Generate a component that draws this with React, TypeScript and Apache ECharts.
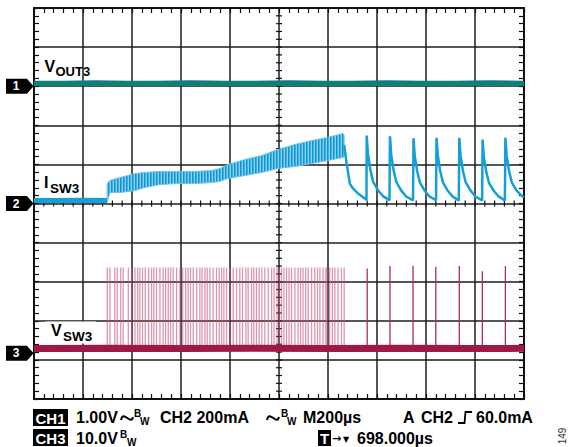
import React, { useEffect, useRef } from "react";
import * as echarts from "echarts";

// ---- scope settings ----
const US_PER_DIV = 200;
const X_MAX_US = 2000;
const Y_DIVS = 10;
const CH1_V_PER_DIV = 1.0;
const CH2_MA_PER_DIV = 200;
const CH3_V_PER_DIV = 10.0;
const CH1_ZERO_DIV = 8;
const CH2_ZERO_DIV = 5;
const CH3_ZERO_DIV = 1.17;

// ---- CH1: VOUT3 (V, relative to CH1 marker) ----
const vout3TimeUs = [0, 120, 250, 380, 500, 640, 780, 900, 1040, 1180, 1300, 1440, 1580, 1720, 1860, 2000];
const vout3Volts = [0.07, 0.07, 0.08, 0.07, 0.07, 0.08, 0.07, 0.07, 0.08, 0.07, 0.07, 0.08, 0.07, 0.07, 0.08, 0.07];

// ---- CH2: ISW3 (mA) ----
const isw3IdleTimeUs = [0, 100, 200, 298];
const isw3IdleMa = [15, 15, 16, 15];
// ripple band (upper / lower envelope)
const isw3BandTimeUs = [298, 310, 351, 383, 412, 453, 514, 587, 657, 726, 759, 791, 861, 930, 995, 1065, 1134, 1199, 1260, 1266];
const isw3BandUpperMa = [100, 118, 133, 143, 153, 159, 164, 164, 164, 169, 179, 199, 225, 246, 276, 302, 322, 338, 358, 350];
const isw3BandLowerMa = [5, 56, 56, 61, 66, 82, 97, 102, 102, 107, 113, 128, 143, 159, 179, 189, 205, 220, 235, 240];
// pulse-skipping tail
const isw3TailTimeUs = [
  1266, 1276, 1289, 1302, 1323, 1350, 1357,
  1358, 1363, 1373, 1384, 1404, 1424, 1451,
  1453, 1458, 1468, 1479, 1499, 1519, 1547,
  1549, 1554, 1564, 1575, 1595, 1615, 1641,
  1643, 1648, 1658, 1669, 1689, 1709, 1734,
  1736, 1741, 1751, 1762, 1782, 1802, 1829,
  1831, 1836, 1846, 1857, 1877, 1897, 1922,
  1924, 1929, 1939, 1950, 1970, 1990, 2000,
];
const isw3TailMa = [
  300, 205, 102, 77, 51, 26, 18,
  348, 256, 172, 112, 68, 38, 17,
  344, 250, 168, 110, 66, 36, 16,
  334, 245, 165, 108, 64, 35, 17,
  336, 248, 166, 108, 65, 35, 16,
  336, 246, 166, 109, 66, 36, 16,
  327, 240, 162, 106, 64, 35, 16,
  336, 247, 166, 108, 66, 40, 32,
];

// ---- CH3: VSW3 (V) ----
const vsw3BaseTimeUs = [0, 300, 600, 900, 1200, 1500, 1800, 2000];
const vsw3BaseVolts = [1.2, 1.25, 1.2, 1.25, 1.2, 1.25, 1.2, 1.25];
const vsw3DensePulseTimeUs = [
  299, 310, 330, 340, 354, 364, 385, 399, 412, 423, 432, 443, 454, 468, 480, 489,
  500, 514, 527, 537, 548, 558, 568, 582, 596, 607, 619, 629, 639, 650, 664, 677,
  686, 698, 707, 718, 731, 745, 756, 766, 775, 786, 799, 813, 827, 840, 851, 865,
  874, 888, 897, 908, 919, 930, 942, 956, 970, 980, 992, 1001, 1010, 1020, 1031, 1041,
  1051, 1065, 1078, 1088, 1098, 1109, 1119, 1133, 1146, 1157, 1167, 1180, 1191, 1196,
  1207, 1218, 1228, 1241, 1255, 1266,
];
const vsw3DensePeakV = 21.9;
const vsw3SparsePulseTimeUs = [1360, 1453, 1547, 1640, 1736, 1830, 1924];
const vsw3SparsePeakV = [21.7, 22.3, 22.4, 22.1, 22.3, 21.0, 22.3];

const ch1ToDiv = (v: number) => CH1_ZERO_DIV + v / CH1_V_PER_DIV;
const ch2ToDiv = (ma: number) => CH2_ZERO_DIV + ma / CH2_MA_PER_DIV;
const ch3ToDiv = (v: number) => CH3_ZERO_DIV + v / CH3_V_PER_DIV;

const C_VOUT = "#0f7f78";
const C_ISW = "#159fd7";
const C_VSW = "#a01848";
const INK = "#111111";
const FONT_LABEL = "Liberation Sans";
const FONT_INFO = "Liberation Sans";

function frameAxis(position: string, split: boolean, isX: boolean) {
  return {
    type: "value",
    min: 0,
    max: isX ? X_MAX_US : Y_DIVS,
    interval: isX ? US_PER_DIV : 1,
    position,
    axisLine: { show: true, onZero: false, lineStyle: { color: INK, width: 2 } },
    axisTick: { show: true, inside: true, length: 5, lineStyle: { color: INK, width: 1.2 } },
    minorTick: { show: true, splitNumber: 5, length: 5, lineStyle: { color: INK, width: 1.2 } },
    axisLabel: { show: false },
    splitLine: { show: split, lineStyle: { color: "#1c1c1c", width: 1.5 } },
    minorSplitLine: { show: false },
  };
}

function makeBandFill(): any {
  try {
    const cv = document.createElement("canvas");
    cv.width = 3;
    cv.height = 2;
    const ctx = cv.getContext("2d");
    if (!ctx) return "#2aa7dd";
    ctx.fillStyle = "#8ccfee";
    ctx.fillRect(0, 0, 3, 2);
    ctx.fillStyle = "#0f95d0";
    ctx.fillRect(0, 0, 1, 2);
    ctx.fillStyle = "#3fb0e2";
    ctx.fillRect(1, 0, 1, 2);
    return { image: cv.toDataURL(), repeat: "repeat", imageWidth: 3, imageHeight: 2 };
  } catch (e) {
    return "#2aa7dd";
  }
}

export default function App() {
  const ref = useRef<HTMLDivElement>(null);

  useEffect(() => {
    if (!ref.current) return;
    const chart = echarts.init(ref.current, undefined, { renderer: "svg" });
    const bandFill = makeBandFill();

    const series: any[] = [
      {
        type: "custom",
        name: "centerTicks",
        silent: true,
        z: 1,
        data: [[0, 0]],
        renderItem: (_p: any, api: any) => {
          const children: any[] = [];
          for (let k = 0; k <= 50; k++) {
            const p = api.coord([(k * X_MAX_US) / 50, Y_DIVS / 2]);
            children.push({ type: "line", shape: { x1: p[0], y1: p[1] - 3, x2: p[0], y2: p[1] + 3 }, style: { stroke: INK, lineWidth: 1.2 } });
          }
          for (let k = 0; k <= 50; k++) {
            const p = api.coord([X_MAX_US / 2, (k * Y_DIVS) / 50]);
            children.push({ type: "line", shape: { x1: p[0] - 3, y1: p[1], x2: p[0] + 3, y2: p[1] }, style: { stroke: INK, lineWidth: 1.2 } });
          }
          return { type: "group", children };
        },
      },
      {
        type: "custom",
        name: "ISW3 band",
        silent: true,
        z: 3,
        data: [[0, 0]],
        renderItem: (_p: any, api: any) => {
          const pts: number[][] = [];
          for (let i = 0; i < isw3BandTimeUs.length; i++) pts.push(api.coord([isw3BandTimeUs[i], ch2ToDiv(isw3BandUpperMa[i])]));
          for (let i = isw3BandTimeUs.length - 1; i >= 0; i--) pts.push(api.coord([isw3BandTimeUs[i], ch2ToDiv(isw3BandLowerMa[i])]));
          return { type: "polygon", shape: { points: pts }, style: { fill: bandFill, stroke: "#6cc6ec", lineWidth: 1 } };
        },
      },
      {
        type: "line",
        name: "ISW3 idle",
        z: 3,
        symbol: "none",
        lineStyle: { color: C_ISW, width: 5 },
        data: isw3IdleTimeUs.map((t, i) => [t, ch2ToDiv(isw3IdleMa[i])]),
      },
      {
        type: "line",
        name: "ISW3 tail",
        z: 3,
        symbol: "none",
        lineStyle: { color: C_ISW, width: 2.5 },
        data: isw3TailTimeUs.map((t, i) => [t, ch2ToDiv(isw3TailMa[i])]),
      },
      {
        type: "custom",
        name: "VSW3 dense pulses",
        silent: true,
        z: 3,
        data: vsw3DensePulseTimeUs.map((t) => [t, vsw3DensePeakV]),
        renderItem: (_p: any, api: any) => {
          const p0 = api.coord([api.value(0), ch3ToDiv(vsw3BaseVolts[0])]);
          const p1 = api.coord([api.value(0), ch3ToDiv(api.value(1))]);
          return { type: "line", shape: { x1: p0[0], y1: p0[1], x2: p1[0], y2: p1[1] }, style: { stroke: "rgba(200,86,128,0.62)", lineWidth: 1.3 } };
        },
      },
      {
        type: "custom",
        name: "VSW3 sparse pulses",
        silent: true,
        z: 3,
        data: vsw3SparsePulseTimeUs.map((t, i) => [t, vsw3SparsePeakV[i]]),
        renderItem: (_p: any, api: any) => {
          const p0 = api.coord([api.value(0), ch3ToDiv(vsw3BaseVolts[0])]);
          const p1 = api.coord([api.value(0), ch3ToDiv(api.value(1))]);
          return { type: "line", shape: { x1: p0[0], y1: p0[1], x2: p1[0], y2: p1[1] }, style: { stroke: "#b02a5c", lineWidth: 1.3 } };
        },
      },
      {
        type: "line",
        name: "VSW3",
        z: 4,
        symbol: "none",
        lineStyle: { color: C_VSW, width: 7 },
        data: vsw3BaseTimeUs.map((t, i) => [t, ch3ToDiv(vsw3BaseVolts[i])]),
      },
      {
        type: "line",
        name: "VOUT3",
        z: 4,
        symbol: "none",
        lineStyle: { color: C_VOUT, width: 5.5 },
        data: vout3TimeUs.map((t, i) => [t, ch1ToDiv(vout3Volts[i])]),
      },
    ];

    chart.setOption({
      animation: false,
      backgroundColor: "#ffffff",
      grid: { left: 34, top: 8, width: 490, height: 391, show: false },
      xAxis: [frameAxis("bottom", true, true), frameAxis("top", false, true)],
      yAxis: [frameAxis("left", true, false), frameAxis("right", false, false)],
      series,
    });

    const yPx = (div: number) => chart.convertToPixel({ xAxisIndex: 0, yAxisIndex: 0 }, [0, div])[1];
    const marker = (label: string, cy: number) => ({
      type: "group",
      children: [
        {
          type: "polygon",
          shape: { points: [[6, cy - 7.5], [27, cy - 7.5], [33.5, cy], [27, cy + 7.5], [6, cy + 7.5]] },
          style: { fill: "#000" },
        },
        {
          type: "text",
          x: 16,
          y: cy,
          style: { text: label, fill: "#fff", fontSize: 12, fontWeight: "bold", fontFamily: FONT_LABEL, align: "center", verticalAlign: "middle" },
        },
      ],
    });
    const txt = (x: number, y: number, text: string, size: number, extra: any = {}) => ({
      type: "text",
      x,
      y,
      z: 10,
      style: { text, fill: "#000", fontSize: size, fontWeight: "bold", fontFamily: FONT_INFO, align: "left", verticalAlign: "middle", ...extra },
    });
    const invBox = (x: number, y: number, w: number, h: number, text: string) => ({
      type: "group",
      children: [
        { type: "rect", shape: { x, y, width: w, height: h }, style: { fill: "#000" } },
        {
          type: "text",
          x: x + w / 2,
          y: y + h / 2 + 0.5,
          style: { text, fill: "#fff", fontSize: 15, fontWeight: "bold", fontFamily: FONT_INFO, align: "center", verticalAlign: "middle" },
        },
      ],
    });
    // bandwidth-limit glyph: a small wave drawn with bezier curves
    const wave = (x: number, y: number) => ({
      type: "bezierCurve",
      z: 10,
      shape: { x1: x, y1: y + 2, cpx1: x + 2, cpy1: y - 9, x2: x + 12, y2: y - 1, cpx2: x + 10, cpy2: y + 8 },
      style: { stroke: "#000", lineWidth: 2, fill: null },
    });

    const r1 = 417;
    const r2 = 438;
    const graphic: any[] = [
      marker("1", yPx(CH1_ZERO_DIV)),
      marker("2", yPx(CH2_ZERO_DIV)),
      marker("3", yPx(CH3_ZERO_DIV)),
      // trace labels
      txt(44.5, 66, "V", 16, { fontFamily: FONT_LABEL }),
      txt(55.5, 71, "OUT3", 13, { fontFamily: FONT_LABEL }),
      txt(44, 182, "I", 16, { fontFamily: FONT_LABEL }),
      txt(50, 188, "SW3", 13.5, { fontFamily: FONT_LABEL }),
      { type: "rect", z: 9, shape: { x: 45, y: 321.5, width: 51, height: 22 }, style: { fill: "#fff" } },
      txt(51, 330, "V", 16, { fontFamily: FONT_LABEL }),
      txt(63, 336, "SW3", 13.5, { fontFamily: FONT_LABEL }),
      // info row 1
      invBox(33, 409, 35, 17, "CH1"),
      txt(76, r1, "1.00V", 16),
      wave(121, r1 + 1),
      txt(134, r1 - 4, "B", 10),
      txt(140, r1 + 4, "W", 10),
      txt(160, r1, "CH2 200mA", 16),
      wave(267, r1 + 1),
      txt(281, r1 - 4, "B", 10),
      txt(287, r1 + 4, "W", 10),
      txt(303, r1, "M200\u00B5s", 16),
      txt(403, r1, "A", 16),
      txt(421, r1, "CH2", 16),
      {
        type: "polyline",
        z: 10,
        shape: { points: [[458, r1 + 6], [464.5, r1 + 6], [465.5, r1 - 5], [472, r1 - 5]] },
        style: { stroke: "#000", lineWidth: 1.8, fill: null },
      },
      txt(476, r1, "60.0mA", 16),
      // info row 2
      invBox(33, 429, 35, 17, "CH3"),
      txt(76, r2, "10.0V", 16),
      txt(120, r2 - 4, "B", 10),
      txt(127, r2 + 4, "W", 10),
      invBox(318, 430, 13, 16, "T"),
      txt(332, r2, "\u2192", 11, { fontFamily: "DejaVu Sans" }),
      txt(343, r2 + 1, "\u25BC", 8, { fontFamily: "DejaVu Sans" }),
      txt(357, r2, "698.000\u00B5s", 16),
      {
        type: "text",
        x: 562,
        y: 436,
        rotation: Math.PI / 2,
        style: { text: "149", fill: "#333", fontSize: 10, fontFamily: "Liberation Sans", align: "center", verticalAlign: "middle" },
      },
    ];
    chart.setOption({ graphic });

    return () => chart.dispose();
  }, []);

  return <div ref={ref} style={{ position: "absolute", left: 0, top: 0, width: 569, height: 447, background: "#fff" }} />;
}
